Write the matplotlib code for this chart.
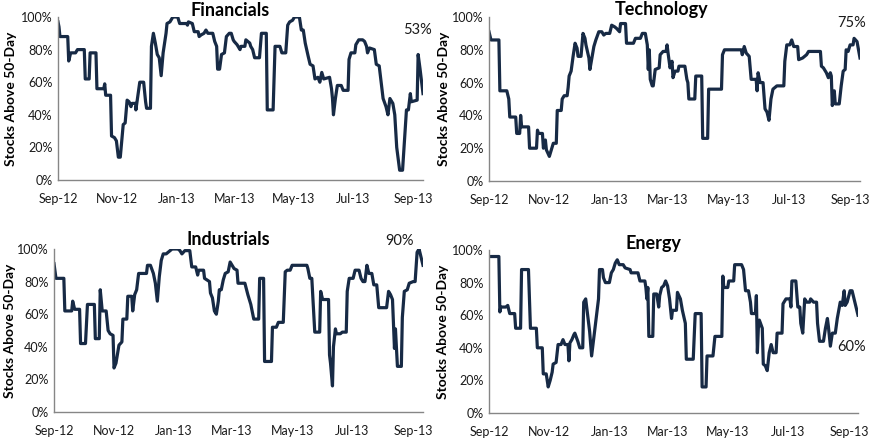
import numpy as np
import pandas as pd
import matplotlib
matplotlib.use("Agg")
import matplotlib.pyplot as plt
import matplotlib.dates as mdates
from matplotlib.ticker import FuncFormatter

# Start of the series (x values below are days after this date)
start = pd.Timestamp("2012-09-01")

# Financials
fin_days = [0, 1, 2, 10, 11, 13, 18, 20, 27, 28, 32, 33, 39, 40, 47, 48, 49, 54, 55, 58, 60, 62, 64,
            67, 69, 71, 73, 75, 76, 80, 80, 83, 84, 88, 90, 91, 95, 96, 98, 100, 102, 104, 106, 108,
            111, 112, 115, 118, 123, 125, 132, 133, 134, 138, 140, 144, 145, 147, 150, 152, 154, 159,
            161, 163, 164, 166, 168, 171, 173, 176, 178, 180, 181, 184, 187, 188, 192, 193, 197, 198,
            200, 202, 207, 209, 214, 215, 221, 223, 228, 230, 234, 236, 238, 241, 243, 248, 250, 252,
            254, 257, 259, 262, 264, 267, 269, 271, 273, 279, 281, 282, 283, 285, 287, 291, 293, 298,
            299, 301, 305, 306, 309, 313, 315, 317, 318, 320, 325, 327, 330, 334, 337, 339, 341, 344,
            346, 348, 350, 351, 354, 356, 358, 360, 362, 363, 369, 370, 372, 375]
fin_vals = [97, 94, 88, 88, 73, 78, 78, 80, 80, 62, 62, 78, 78, 56, 56, 59, 52, 52, 27, 26, 24, 14, 14,
            34, 35, 49, 48, 45, 47, 47, 43, 56, 60, 60, 48, 44, 44, 82, 90, 84, 77, 75, 64, 78,
            90, 96, 97, 100, 100, 96, 96, 95, 97, 96, 91, 91, 88, 89, 90, 92, 90, 90,
            85, 82, 68, 68, 77, 78, 88, 90, 90, 86, 85, 83, 80, 82, 82, 86, 84, 82,
            80, 75, 75, 90, 90, 43, 43, 82, 82, 78, 78, 95, 97, 98, 100, 100, 92, 92,
            84, 76, 71, 70, 62, 63, 60, 66, 62, 63, 56, 50, 40, 50, 58, 58, 55, 55,
            74, 78, 78, 83, 86, 86, 85, 82, 78, 81, 80, 71, 70, 50, 45, 40, 50, 47,
            40, 20, 11, 6, 6, 24, 43, 43, 53, 48, 49, 77, 68, 53]

# Technology
tec_days = [0, 2, 10, 11, 18, 20, 21, 27, 28, 31, 32, 33, 40, 41, 48, 49, 50, 54, 55, 57, 58, 61, 64,
            65, 68, 69, 73, 74, 76, 79, 80, 81, 83, 85, 87, 89, 90, 93, 95, 97, 98, 101, 102, 104,
            106, 108, 111, 114, 116, 118, 122, 124, 127, 129, 132, 133, 138, 139, 146, 148, 153, 155,
            158, 160, 161, 162, 163, 165, 166, 168, 172, 173, 176, 179, 180, 181, 183, 185, 186, 188,
            191, 192, 198, 200, 201, 202, 208, 209, 215, 216, 221, 222, 235, 236, 238, 255, 256, 258,
            260, 263, 265, 270, 271, 272, 274, 277, 279, 281, 283, 285, 287, 291, 298, 299, 301, 304,
            306, 308, 312, 313, 317, 321, 323, 335, 336, 338, 341, 343, 345, 346, 347, 349, 350, 354,
            356, 358, 360, 361, 363, 365, 368, 369, 372, 375]
tec_vals = [91, 86, 86, 55, 55, 50, 39, 39, 29, 29, 40, 33, 33, 20, 20, 31, 29, 29, 20, 25, 19, 15, 21,
            23, 23, 43, 43, 50, 52, 52, 57, 64, 67, 76, 84, 81, 76, 76, 90, 87, 83, 75, 68, 75,
            82, 86, 91, 91, 89, 90, 90, 95, 94, 93, 91, 96, 96, 84, 84, 87, 87, 90,
            90, 83, 68, 80, 62, 58, 58, 68, 69, 77, 79, 79, 83, 78, 69, 73, 63, 67,
            67, 70, 70, 62, 60, 50, 50, 64, 64, 26, 26, 56, 56, 77, 80, 80, 77, 82,
            78, 76, 62, 62, 55, 66, 60, 60, 44, 42, 37, 50, 56, 58, 58, 73, 83, 83,
            86, 82, 82, 74, 75, 77, 79, 79, 70, 69, 66, 63, 66, 64, 46, 55, 47, 47,
            58, 67, 68, 80, 79, 83, 83, 87, 85, 75]

# Industrials
ind_days = [0, 2, 10, 11, 18, 19, 21, 26, 27, 32, 34, 41, 42, 46, 47, 49, 53, 55, 57, 60, 61, 63, 66,
            69, 70, 74, 75, 79, 80, 82, 84, 86, 91, 94, 95, 98, 101, 103, 105, 107, 109, 111, 114,
            118, 120, 126, 128, 130, 133, 138, 140, 144, 146, 147, 152, 153, 158, 159, 161, 163, 165,
            167, 168, 170, 172, 174, 177, 179, 181, 183, 186, 187, 194, 197, 200, 203, 208, 209, 213,
            214, 221, 222, 226, 228, 233, 235, 237, 240, 242, 257, 258, 260, 262, 265, 270, 271, 273,
            279, 280, 281, 283, 284, 286, 287, 291, 293, 297, 298, 300, 304, 306, 310, 312, 314, 316,
            318, 320, 323, 325, 328, 330, 338, 340, 342, 344, 346, 347, 348, 349, 353, 354, 356, 359,
            361, 365, 367, 369, 371, 373, 375]
ind_vals = [91, 82, 82, 62, 62, 68, 63, 63, 42, 42, 66, 66, 45, 45, 75, 62, 62, 50, 48, 47, 27, 30, 41,
            43, 57, 57, 71, 71, 62, 72, 75, 85, 85, 85, 90, 90, 85, 79, 68, 83, 93, 97, 97,
            99, 100, 100, 99, 97, 99, 99, 89, 89, 84, 87, 87, 82, 80, 73, 70, 62, 60,
            68, 75, 75, 81, 85, 86, 92, 90, 88, 87, 79, 79, 72, 66, 57, 57, 82, 82,
            31, 31, 52, 52, 55, 55, 86, 87, 87, 90, 90, 88, 82, 82, 49, 49, 74, 69,
            69, 35, 30, 16, 40, 51, 48, 48, 49, 49, 74, 82, 82, 87, 87, 82, 80, 80,
            90, 85, 85, 78, 78, 64, 64, 74, 72, 69, 39, 51, 40, 28, 28, 58, 74, 75,
            79, 80, 80, 98, 100, 95, 90]

# Energy
ene_days = [0, 10, 11, 12, 17, 19, 21, 26, 27, 32, 33, 40, 42, 48, 49, 54, 55, 58, 60, 62, 64, 65, 68,
            70, 73, 75, 77, 80, 81, 82, 84, 86, 87, 90, 92, 95, 96, 98, 100, 102, 104, 106, 109,
            111, 112, 115, 116, 118, 122, 124, 126, 128, 130, 132, 136, 138, 143, 144, 151, 153, 158,
            159, 160, 161, 162, 166, 167, 170, 172, 173, 175, 177, 179, 181, 183, 185, 186, 190, 191,
            194, 196, 199, 200, 207, 209, 215, 216, 220, 221, 227, 229, 236, 237, 238, 242, 243, 248,
            249, 256, 258, 260, 263, 265, 266, 270, 271, 272, 273, 274, 277, 278, 280, 282, 284, 286,
            288, 291, 292, 297, 298, 301, 305, 306, 307, 311, 313, 315, 316, 318, 320, 322, 325, 326,
            329, 332, 333, 335, 339, 341, 343, 344, 346, 348, 351, 353, 356, 358, 360, 361, 363, 366,
            368, 370, 374]
ene_vals = [96, 96, 62, 65, 65, 66, 61, 61, 52, 52, 88, 88, 52, 52, 40, 40, 24, 24, 16, 20, 25, 30, 31,
            42, 42, 45, 42, 42, 32, 43, 45, 48, 49, 44, 40, 40, 68, 70, 60, 50, 35, 45, 60,
            70, 88, 88, 83, 80, 80, 86, 88, 92, 94, 91, 91, 89, 88, 86, 86, 81, 81,
            77, 70, 77, 47, 47, 73, 73, 65, 72, 77, 78, 81, 78, 70, 58, 63, 63, 74,
            70, 63, 55, 33, 33, 61, 61, 16, 16, 35, 35, 47, 47, 84, 77, 77, 81, 81,
            91, 91, 88, 75, 75, 68, 61, 61, 72, 37, 52, 57, 52, 30, 29, 26, 37, 42,
            37, 37, 49, 49, 67, 70, 70, 65, 81, 81, 65, 65, 55, 49, 70, 68, 68, 70,
            68, 68, 55, 44, 44, 52, 58, 53, 41, 49, 49, 58, 68, 66, 75, 66, 68, 75,
            75, 70, 60]

titles = ["Financials", "Technology", "Industrials", "Energy"]
last_labels = ["53%", "75%", "90%", "60%"]
series = [(fin_days, fin_vals), (tec_days, tec_vals), (ind_days, ind_vals), (ene_days, ene_vals)]

line_color = "#172a45"
axis_color = "#868686"
plt.rcParams["font.family"] = ["Lato", "DejaVu Sans"]

fig = plt.figure(figsize=(8.73, 4.40), dpi=100)
W, H = 873.0, 440.0

# axes boxes in pixels: left, top, right, bottom
boxes = [(58, 17, 423, 180), (489, 17, 860, 181), (54, 249, 423, 412), (489, 250, 858, 413)]
title_pos = [(230, 10), (662, 10), (228, 239), (653, 243)]
label_pos = [(417, 30), (852, 23), (400, 241), (852, 347)]
ylab_x = [17, 450, 16, 449]

for i, (days, vals) in enumerate(series):
    l, t, r, b = boxes[i]
    ax = fig.add_axes([l / W, 1 - b / H, (r - l) / W, (b - t) / H])
    dates = start + pd.to_timedelta(np.array(days), unit="D")
    ax.plot(dates, np.array(vals) / 100.0, color=line_color, lw=2.3, solid_joinstyle="round")
    ax.set_xlim(dates[0], dates[-1])
    ax.set_ylim(0, 1)
    ax.set_yticks(np.arange(0, 1.01, 0.2))
    ax.yaxis.set_major_formatter(FuncFormatter(lambda v, p: f"{v*100:.0f}%"))
    ax.xaxis.set_major_locator(mdates.MonthLocator(bymonth=[1, 3, 5, 7, 9, 11]))
    ax.xaxis.set_major_formatter(mdates.DateFormatter("%b-%y"))
    ax.tick_params(axis="y", length=0, labelsize=9, colors="#1a1a1a", pad=4)
    ax.tick_params(axis="x", length=0, labelsize=9, colors="#1a1a1a", pad=9)
    for s in ["top", "right"]:
        ax.spines[s].set_visible(False)
    for s in ["left", "bottom"]:
        ax.spines[s].set_color(axis_color)
        ax.spines[s].set_linewidth(1.0)
    ax.set_ylabel("Stocks Above 50-Day", fontsize=10, fontweight="bold")
    ax.yaxis.set_label_coords((ylab_x[i] - l) / (r - l), 0.5)
    ax.patch.set_visible(False)

    tx, ty = title_pos[i]
    fig.text(tx / W, 1 - ty / H, titles[i], ha="center", va="center",
             fontsize=13, fontweight="bold", color="black")
    lx, ly = label_pos[i]
    fig.text(lx / W, 1 - ly / H, last_labels[i], ha="center", va="center",
             fontsize=10.5, color="#1a1a1a")

fig.savefig("out.png", dpi=100)
